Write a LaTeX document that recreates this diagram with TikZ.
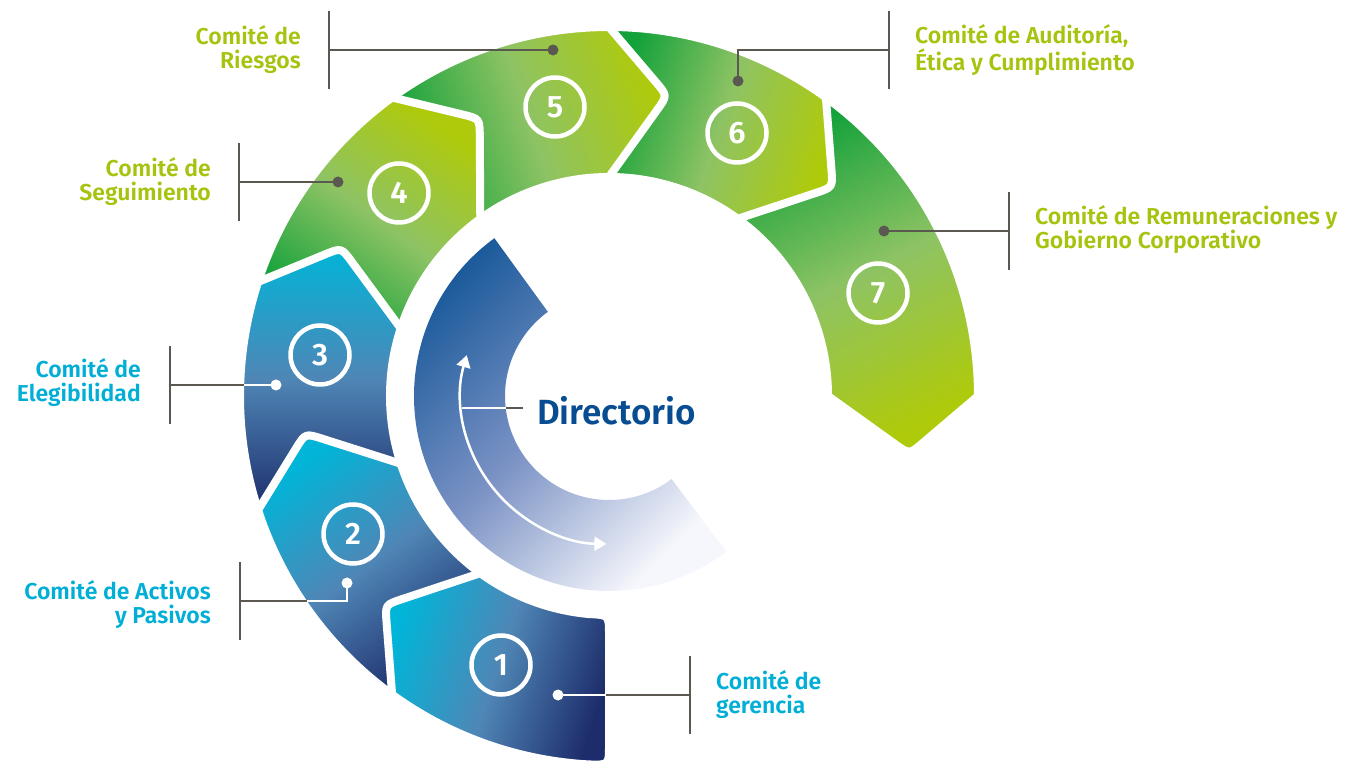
\documentclass[tikz,border=0pt]{standalone}
\usepackage{fontspec}
\setmainfont{Fira Sans}[BoldFont={Fira Sans SemiBold}]
\usetikzlibrary{calc,arrows.meta}
\definecolor{gdark}{HTML}{12A13A}
\definecolor{gmid}{HTML}{8EC364}
\definecolor{glime}{HTML}{AFCA0A}
\definecolor{bdark}{HTML}{1D2D6B}
\definecolor{bmid}{HTML}{4F86B6}
\definecolor{bcyan}{HTML}{00B5D8}
\definecolor{cdark}{HTML}{1B5A9B}
\definecolor{cmid}{HTML}{7C93C5}
\definecolor{cpale}{HTML}{F6F7FC}
\definecolor{leadgray}{HTML}{5A5850}
\definecolor{limetext}{HTML}{A7C30F}
\definecolor{cyantext}{HTML}{00AED6}
\definecolor{dirblue}{HTML}{084D91}

\begin{document}
\begin{tikzpicture}[x=1pt,y=1pt]
\tikzstyle{seg} = [draw=white, line width=8pt, line join=round]
\tikzstyle{greenseg} = [seg, top color=gdark, bottom color=glime, middle color=gmid]
\tikzstyle{blueseg} = [seg, top color=bdark, bottom color=bcyan, middle color=bmid]
\tikzstyle{numc} = [circle, draw=white, line width=4.5pt, minimum size=59pt, inner sep=0pt, text=white, font=\bfseries\fontsize{31}{31}\selectfont]
\tikzstyle{leader} = [draw=leadgray, line width=2.5pt]
\tikzstyle{wleader} = [draw=white, line width=2.5pt]
\tikzstyle{leaddot} = [circle, fill=leadgray, inner sep=0pt, minimum size=11pt]
\tikzstyle{wdot} = [circle, fill=white, inner sep=0pt, minimum size=11pt]
\tikzstyle{glabel} = [text=limetext, font=\bfseries\fontsize{23}{24}\selectfont, inner sep=0pt]
\tikzstyle{blabel} = [text=cyantext, font=\bfseries\fontsize{23}{24}\selectfont, inner sep=0pt]
\useasboundingbox (0,0) rectangle (1356,760);

\begin{scope}[shift={(609,364)}]
% ring of committees, drawn from 7 back to 2
\foreach \a/\b/\s in {0/54/greenseg, 54/90/greenseg, 90/126/greenseg, 126/162/greenseg, 162/198/blueseg, 198/234/blueseg}{
  \pgfmathsetmacro{\tp}{\a-11}
  \pgfmathsetmacro{\md}{(\a+\b)/2}
  \shadedraw[\s, shading angle=\md] (\b:369pt) arc[start angle=\b, end angle=\a, radius=369pt]
    -- ($(\tp:306pt)!18pt!(\a:369pt)$) .. controls (\tp:306pt) .. ($(\tp:306pt)!18pt!(\a:219pt)$)
    -- (\a:219pt) arc[start angle=\a, end angle=\b, radius=219pt] -- cycle;
}
% committee 1, rounded end
\shadedraw[blueseg, shading angle=252] (266.9:369pt) arc[start angle=266.9, end angle=234, radius=369pt]
  -- ($(223:306pt)!18pt!(234:369pt)$) .. controls (223:306pt) .. ($(223:306pt)!18pt!(234:219pt)$)
  -- (234:219pt) arc[start angle=234, end angle=264.8, radius=219pt]
  .. controls (270:219pt) .. (0,-239) -- (0,-349) .. controls (270:369pt) .. (266.9:369pt) -- cycle;

% Directorio ring
\shade[top color=cdark, bottom color=cpale, middle color=cmid, shading angle=45]
  (126:195pt) arc[start angle=126, end angle=307, radius=195pt]
  -- (307:104pt) arc[start angle=307, end angle=126, radius=104pt] -- cycle;
\draw[white, line width=2.5pt, {Triangle[width=14pt,length=12pt]}-{Triangle[width=14pt,length=12pt]}]
  (164:148pt) arc[start angle=164, end angle=269, radius=148pt];
\coordinate (dirarc) at (-147.5,-12);
\coordinate (dirin) at (-103.3,-12);
\end{scope}

\node[text=dirblue, font=\bfseries\fontsize{35}{35}\selectfont, inner sep=0pt, anchor=base west] (dir) at (537,335) {Directorio};
\coordinate (dirend) at (523,352);
\draw[leader] (dirend) -- (dirin);
\draw[wleader] (dirin) -- (dirarc);

% numbers
\node[numc] (n1) at (501,95) {1};
\node[numc] (n2) at (353,226) {2};
\node[numc] (n3) at (320,405) {3};
\node[numc] (n4) at (399,567) {4};
\node[numc] (n5) at (555,653) {5};
\node[numc] (n6) at (737,627) {6};
\node[numc] (n7) at (878,467) {7};

% leaders and labels
\node[wdot] (d1) at (558,65) {};
\coordinate (e1) at (606,65);
\coordinate (b1) at (690,65);
\draw[wleader] (d1.center) -- (e1);
\draw[leader] (e1) -- (b1);
\draw[leader] (b1) ++(0,-39) -- ++(0,78);
\node[blabel, anchor=west, align=left] (l1) at (716,65) {Comité de\\gerencia};

\node[wdot] (d2) at (347,177) {};
\coordinate (e2) at (307,159);
\coordinate (b2) at (240,159);
\draw[wleader] (d2.center) |- (e2);
\draw[leader] (e2) -- (b2);
\draw[leader] (b2) ++(0,-39) -- ++(0,78);
\node[blabel, anchor=east, align=right] (l2) at (211,155) {Comité de Activos\\y Pasivos};

\node[wdot] (d3) at (276,375) {};
\coordinate (e3) at (244,375);
\coordinate (b3) at (170,375);
\draw[wleader] (d3.center) -- (e3);
\draw[leader] (e3) -- (b3);
\draw[leader] (b3) ++(0,-39) -- ++(0,78);
\node[blabel, anchor=east, align=right] (l3) at (141,377) {Comité de\\Elegibilidad};

\node[leaddot] (d4) at (338,578) {};
\coordinate (b4) at (239,578);
\draw[leader] (d4.center) -- (b4);
\draw[leader] (b4) ++(0,-39) -- ++(0,78);
\node[glabel, anchor=east, align=right] (l4) at (211,578) {Comité de\\Seguimiento};

\node[leaddot] (d5) at (553,710) {};
\coordinate (b5) at (329,710);
\draw[leader] (d5.center) -- (b5);
\draw[leader] (b5) ++(0,-39) -- ++(0,78);
\node[glabel, anchor=east, align=right] (l5) at (301,710) {Comité de\\Riesgos};

\node[leaddot] (d6) at (738,679) {};
\coordinate (b6) at (889,710);
\draw[leader] (d6.center) |- (b6);
\draw[leader] (b6) ++(0,-39) -- ++(0,78);
\node[glabel, anchor=west, align=left] (l6) at (915,710) {Comité de Auditoría,\\Ética y Cumplimiento};

\node[leaddot] (d7) at (884,529) {};
\coordinate (b7) at (1009,529);
\draw[leader] (d7.center) -- (b7);
\draw[leader] (b7) ++(0,-39) -- ++(0,78);
\node[glabel, anchor=west, align=left] (l7) at (1035,530) {Comité de Remuneraciones y\\Gobierno Corporativo};
\end{tikzpicture}
\end{document}
